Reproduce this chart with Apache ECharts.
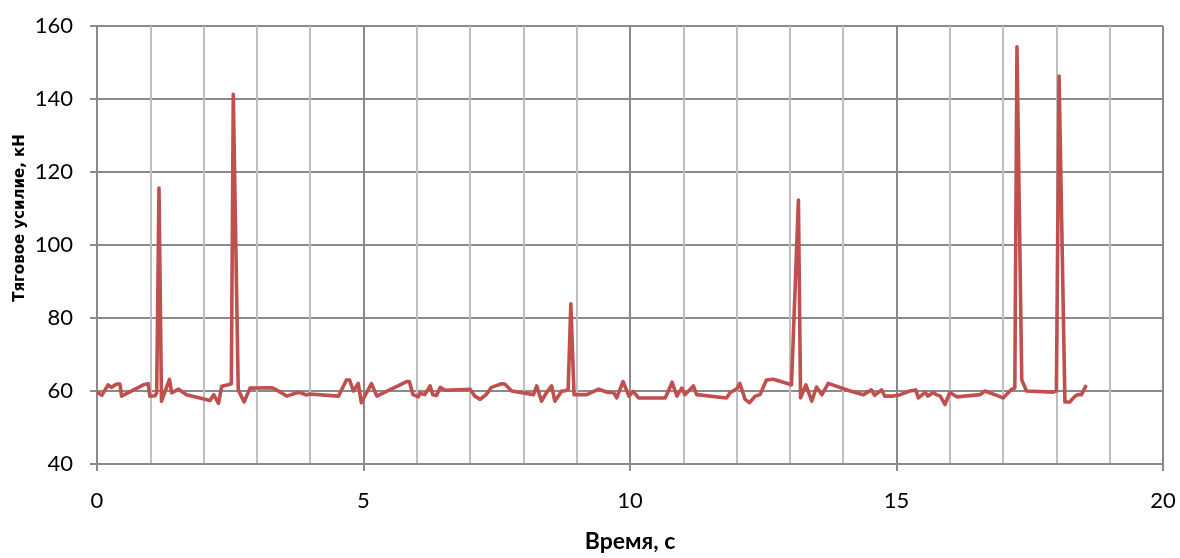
<!DOCTYPE html>
<html>
<head>
<meta charset="utf-8">
<script src="https://cdn.jsdelivr.net/npm/echarts@6/dist/echarts.min.js"></script>
<style>
html,body{margin:0;padding:0;background:#fff;}
#chart{width:1180px;height:558px;}
</style>
</head>
<body>
<div id="chart"></div>
<script>
const timeValues = [0.02,0.09,0.21,0.27,0.37,0.43,0.46,0.87,0.96,0.99,1.09,1.12,1.163,1.21,1.36,1.40,1.53,1.68,2.12,2.19,2.28,2.34,2.46,2.52,2.557,2.65,2.76,2.87,3.28,3.34,3.46,3.56,3.75,3.81,3.93,3.99,4.53,4.68,4.74,4.81,4.90,4.96,5.03,5.15,5.25,5.81,5.86,5.93,6.03,6.06,6.15,6.25,6.30,6.37,6.44,6.53,7.00,7.09,7.19,7.30,7.40,7.59,7.65,7.78,8.19,8.25,8.34,8.43,8.53,8.59,8.72,8.78,8.84,8.89,8.95,9.19,9.41,9.44,9.59,9.69,9.75,9.87,9.98,10.06,10.16,10.66,10.72,10.79,10.88,10.97,11.03,11.19,11.25,11.81,11.88,12.00,12.06,12.16,12.24,12.35,12.44,12.56,12.69,13.03,13.16,13.20,13.30,13.41,13.50,13.60,13.72,14.13,14.38,14.53,14.59,14.72,14.78,14.94,15.07,15.25,15.36,15.41,15.54,15.59,15.69,15.75,15.82,15.91,16.00,16.13,16.57,16.66,16.88,17.00,17.16,17.22,17.26,17.35,17.44,17.94,18.00,18.05,18.16,18.25,18.35,18.41,18.47,18.55];
const forceValues = [59.5,58.8,61.7,61.0,61.9,61.9,58.6,61.7,62.0,58.6,58.7,59.5,115.6,57.2,63.2,59.5,60.5,59.0,57.4,59.0,56.6,61.3,61.7,62.0,141.3,60.3,57.0,60.8,60.9,60.5,59.5,58.6,59.5,59.6,58.9,59.2,58.6,63.0,63.0,60.0,62.1,56.8,58.8,62.0,58.6,62.6,62.6,59.0,58.4,59.4,59.0,61.4,59.0,58.8,61.0,60.2,60.5,58.6,57.7,59.0,61.0,62.0,61.9,60.0,59.0,61.4,57.2,59.5,61.4,57.2,60.0,60.0,60.5,83.9,59.0,59.0,60.5,60.5,59.6,59.6,58.1,62.6,58.6,59.9,58.1,58.1,60.0,62.4,58.6,60.8,59.0,61.4,59.0,58.1,59.6,60.5,62.1,57.7,56.8,58.6,59.0,63.0,63.2,61.7,112.3,58.1,61.7,57.2,61.1,59.0,62.1,60.0,59.0,60.3,58.8,60.3,58.6,58.6,59.0,60.0,60.3,58.1,59.6,58.6,59.6,59.0,58.6,56.3,59.6,58.4,59.0,60.0,58.8,58.1,60.5,60.8,154.3,63.0,60.0,59.7,60.0,146.3,57.0,57.0,58.6,59.0,59.0,61.3];
const xTickLabels = ['0','5','10','15','20'];
const yTickLabels = ['40','60','80','100','120','140','160'];
const xAxisTitle = 'Время, с';
const yAxisTitle = 'Тяговое усилие, кН';

const seriesData = timeValues.map((t, i) => [t, forceValues[i]]);
const FONT = 'Lato, "Open Sans", sans-serif';
const MAJOR = '#8a8a8a';
const MINOR = '#bebebe';

const chart = echarts.init(document.getElementById('chart'), null, {renderer: 'canvas'});
chart.setOption({
  animation: false,
  backgroundColor: '#ffffff',
  grid: {left: 97, right: 17, top: 26, bottom: 86, containLabel: false},
  graphic: [{
    type: 'text',
    x: 20, y: 218,
    rotation: Math.PI / 2,
    style: {
      text: yAxisTitle,
      fontFamily: '"DejaVu Sans", sans-serif',
      fontSize: 15,
      fontWeight: 'bold',
      fill: '#000',
      align: 'center',
      verticalAlign: 'middle'
    }
  }],
  xAxis: {
    type: 'value', min: 0, max: 20, interval: 5,
    name: xAxisTitle, nameLocation: 'middle', nameGap: 66,
    nameTextStyle: {fontFamily: FONT, fontSize: 23, fontWeight: 'bold', color: '#000'},
    axisLine: {show: true, lineStyle: {color: MAJOR, width: 2}},
    axisTick: {show: true, length: 7, lineStyle: {color: MAJOR, width: 2}},
    axisLabel: {fontFamily: FONT, fontSize: 22, color: '#000', margin: 26,
      formatter: v => xTickLabels[xTickLabels.indexOf(String(v))] || ''},
    splitLine: {show: true, lineStyle: {color: MAJOR, width: 2}},
    minorTick: {show: false, splitNumber: 5},
    minorSplitLine: {show: true, lineStyle: {color: MINOR, width: 2}}
  },
  yAxis: {
    type: 'value', min: 40, max: 160, interval: 20,
    axisLine: {show: true, lineStyle: {color: MAJOR, width: 2}},
    axisTick: {show: true, length: 7, lineStyle: {color: MAJOR, width: 2}},
    axisLabel: {fontFamily: FONT, fontSize: 22, color: '#000', margin: 24,
      formatter: v => yTickLabels[yTickLabels.indexOf(String(v))] || ''},
    splitLine: {show: true, lineStyle: {color: MAJOR, width: 2}}
  },
  series: [{
    type: 'line',
    data: seriesData,
    showSymbol: false,
    symbol: 'none',
    lineStyle: {color: '#C0504D', width: 3.6, cap: 'round', join: 'round'},
    z: 5
  }]
});
</script>
</body>
</html>
